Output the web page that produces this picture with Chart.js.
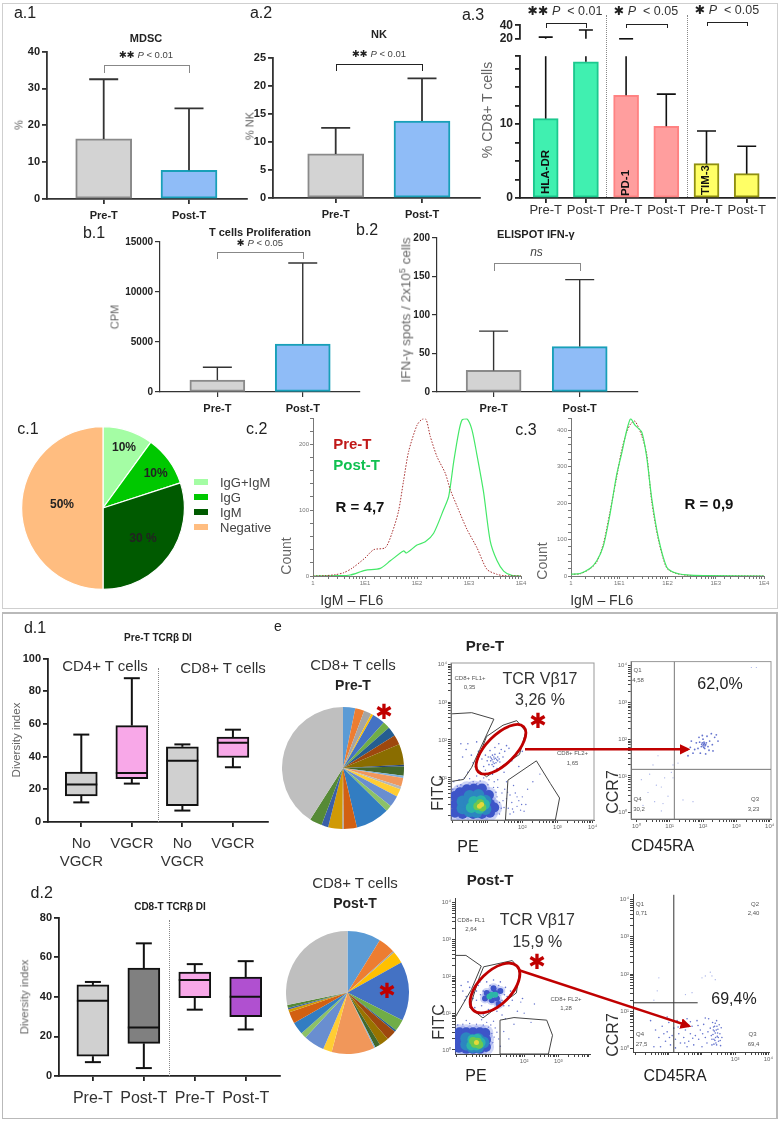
<!DOCTYPE html>
<html>
<head>
<meta charset="utf-8">
<title>Immune panels</title>
<script src="https://cdn.jsdelivr.net/npm/chart.js@4/dist/chart.umd.min.js"></script>
<style>
  html, body { margin: 0; padding: 0; background: #fff; }
  #page { position: relative; width: 782px; height: 1124px; overflow: hidden; font-family: "Liberation Sans", Arial, sans-serif; color: #222; filter: blur(0.35px); }
  #page canvas { position: absolute; }
  .t { position: absolute; white-space: nowrap; line-height: 1; }
  .box { position: absolute; box-sizing: border-box; }
  sup { font-size: 65%; line-height: 0; }
  svg { position: absolute; left: 0; top: 0; }
</style>
</head>
<body>
<div id="page"></div>
<script>
// ---- data ----
const prePost = ["Pre-T", "Post-T"];
const mdscMean = [16.3, 7.8];
const mdscHigh = [32.5, 24.6];
const nkMean = [7.85, 13.7];
const nkHigh = [12.5, 21.3];
const cpmMean = [1200, 4800];
const cpmHigh = [2470, 12900];
const elispotMean = [28, 59];
const elispotHigh = [79, 146];

const cd8Cats = ["Pre-T", "Post-T", "Pre-T", "Post-T", "Pre-T", "Post-T"];
const cd8Mean = [10.75, 18.45, 13.9, 9.7, 4.65, 3.3];
const cd8High = [22.5, 32.9, 20, 14.07, 9.07, 7.0];

const igLabels = ["IgG+IgM", "IgG", "IgM", "Negative"];
const igValues = [10, 10, 30, 50];
const igColors = ["#a4fda4", "#00c800", "#005a00", "#ffbd80"];

const c2PreX = [1, 1.7, 2.7, 3.9, 5.6, 9.9, 14.7, 24.6, 33, 44, 55, 69, 100, 125, 149, 180, 243, 350, 437, 589, 912, 1420, 2220, 3470, 4640, 10000];
const c2PreY = [0, 0.5, 2, 5, 11.6, 27, 40, 43, 65, 98, 144, 189, 229, 238, 238, 212, 181, 156, 131, 106, 71, 43, 10, 2.5, 0.5, 0];
const c2PostX = [1, 2.9, 5.2, 10, 19.7, 30.7, 55, 63, 100, 144, 209, 325, 407, 509, 636, 737, 912, 1140, 1420, 1900, 2560, 3470, 4640, 6600, 10000];
const c2PostY = [0, 0.5, 1.5, 8.5, 11.6, 23, 38, 35, 47, 52, 65, 101, 121, 174, 219, 237, 239, 222, 184, 128, 53, 23, 7.5, 1, 0];
const c3X = [1, 1.54, 2.5, 3.4, 4.68, 6.4, 8.8, 11.2, 14.3, 17.3, 21.2, 29.2, 37, 47, 64.6, 96, 143, 251, 550, 10000];
const c3PostY = [5, 7, 21, 41, 82, 168, 277, 336, 400, 432, 414, 395, 327, 214, 105, 25, 9, 3, 1, 0];
const c3PreY = [5, 6, 20, 38, 88, 175, 270, 345, 395, 418, 425, 385, 335, 205, 100, 22, 8, 2, 1, 0];

const d1Cats = [["No", "VGCR"], ["VGCR"], ["No", "VGCR"], ["VGCR"]];
const d1Low = [12, 23.5, 7, 33.5];
const d1Q1 = [16, 26.5, 10, 39.5];
const d1Median = [23, 30, 37.5, 48.5];
const d1Q3 = [30.5, 59, 46, 52];
const d1High = [53.5, 88, 47.5, 56.5];

const d2Cats = ["Pre-T", "Post-T", "Pre-T", "Post-T"];
const d2Low = [7, 4, 33.5, 23.5];
const d2Q1 = [10, 16.5, 39.5, 30];
const d2Median = [38, 24.5, 48.5, 40];
const d2Q3 = [46, 54.5, 52.5, 50];
const d2High = [47.5, 67, 56.5, 58];

const vbPreShare = [3.25, 2.4, 2, 0.6, 3.4, 1.9, 2.5, 2.6, 5.5, 0.5, 2.4, 0.6, 2.3, 0.7, 2.1, 3, 1.6, 9, 3.5, 0.4, 3.7, 1.8, 3.3, 41];
const vbPreColors = ["#5b9bd5", "#ed7d31", "#a5a5a5", "#ffc000", "#4472c4", "#70ad47", "#255e91", "#9e480e", "#8a6d00", "#264478", "#43682b", "#7cafdd", "#f1975a", "#b7b7b7", "#ffcd33", "#698ed0", "#8cc168", "#327dc2", "#d26012", "#a5a5a5", "#d09a05", "#3a5fa8", "#568a36", "#bfbfbf"];
const vbPostShare = [8.8, 4.5, 0.4, 3.2, 15.5, 3.1, 0.5, 2.6, 2.5, 1.4, 0.3, 11.3, 2.3, 5.5, 1.5, 3.3, 3, 0.8, 0.4, 0.8, 28.2];
const vbPostColors = ["#5b9bd5", "#ed7d31", "#a5a5a5", "#ffc000", "#4472c4", "#70ad47", "#255e91", "#9e480e", "#997300", "#43682b", "#7cafdd", "#f1975a", "#ffcd33", "#698ed0", "#8cc168", "#327dc2", "#d26012", "#d09a05", "#3a5fa8", "#568a36", "#bfbfbf"];

// flow plots, in decades
const flowTicks = ["10⁰", "10¹", "10²", "10³", "10⁴"];
const aGateLeft = [[0, 2.69], [0.56, 2.72], [1.19, 2.55], [0.79, 1.75], [0.56, 1.28], [0.33, 0.96], [0, 0.91]];
const aGateMid = [[1.84, 2.51], [2.1, 2.22], [1.92, 1.62], [0.98, 1.03], [0.65, 1.28], [0.98, 2.09], [1.45, 2.39], [1.84, 2.51]];
const aGateRight = [[1.59, 0.94], [2.4, 1.45], [2.8, 0.85], [3.06, 0.47], [2.94, -0.11], [1.52, -0.11], [1.59, 0.94]];
const aBlobBlue = [[0.08, 0.08], [0.08, 0.3], [0.08, 0.52], [0.22, 0.62], [0.3, 0.05], [0.3, 0.3], [0.35, 0.55], [0.42, 0.7], [0.6, 0.05], [0.6, 0.3], [0.6, 0.55], [0.62, 0.72], [0.85, 0.05], [0.85, 0.3], [0.85, 0.55], [0.85, 0.72], [1.08, 0.08], [1.08, 0.32], [1.05, 0.55], [1.2, 0.22]];
const aBlobTeal = [[0.3, 0.2], [0.3, 0.38], [0.5, 0.12], [0.5, 0.35], [0.5, 0.52], [0.7, 0.1], [0.7, 0.35], [0.75, 0.55], [0.95, 0.18], [0.95, 0.4]];
const aBlobCyan = [[0.55, 0.22], [0.62, 0.38], [0.78, 0.2], [0.82, 0.4], [0.92, 0.3]];
const aBlobGreen = [[0.72, 0.25], [0.8, 0.33], [0.86, 0.22]];
const aBlobYellow = [[0.78, 0.25], [0.84, 0.3]];
const aFuzz = [[0.05, 0.9], [0.2, 0.95], [0.35, 1.0], [0.5, 0.98], [0.7, 1.05], [0.9, 1.0], [1.05, 0.95], [1.2, 0.9], [1.3, 0.75], [1.42, 0.6], [1.45, 0.4], [1.4, 0.2], [1.35, 0.05], [1.5, 0.7], [1.55, 0.45], [1.6, 0.2], [1.65, 0.55], [1.7, 0.35], [1.75, 0.1], [1.8, 0.6], [1.85, 0.25], [1.9, 0.4], [1.95, 0.15], [2.0, 0.5], [1.15, 1.1], [0.45, 1.15], [0.95, 1.2], [1.55, 0.9], [1.75, 0.8], [2.1, 0.3], [2.3, 0.9], [2.5, 1.1], [2.15, 0.7], [1.65, 0.05], [0.02, 0.7], [0.25, 0.82], [0.6, 0.9], [0.8, 0.92], [1.28, 0.5], [1.3, 0.95], [1.25, 0.62], [1.35, 0.35], [1.18, 0.75], [1.02, 0.82], [0.7, 0.85], [0.15, 0.78], [1.48, 0.22], [1.58, 0.62], [1.72, 0.18], [1.85, 0.5], [1.98, 0.3], [2.05, 0.12]];
const aCluster = [[1.2, 1.5], [1.1, 1.45], [1.3, 1.55], [1.25, 1.4], [1.15, 1.6], [1.05, 1.35], [1.35, 1.65], [1.4, 1.75], [1.0, 1.45], [1.18, 1.3], [1.28, 1.25], [1.5, 1.7], [1.45, 1.55], [0.95, 1.6], [1.08, 1.72], [1.22, 1.8], [1.33, 1.9], [1.55, 1.85], [1.62, 1.78], [0.9, 1.3], [0.85, 1.5], [1.12, 1.52], [1.22, 1.62], [1.17, 1.42], [1.27, 1.48], [1.03, 1.55], [1.36, 1.42], [0.75, 1.7], [0.55, 1.6], [0.4, 1.75], [0.3, 1.55], [0.6, 1.4], [0.45, 1.9], [0.25, 1.9], [0.7, 1.95], [1.7, 1.45], [1.9, 1.3], [2.0, 1.7], [1.48, 1.15], [1.15, 1.1], [1.14, 1.48], [1.19, 1.55], [1.24, 1.52], [1.09, 1.55], [1.3, 1.45], [1.2, 1.38], [1.14, 1.35], [1.34, 1.5]];

const bCluster = [[2.02, 1.86], [1.95, 1.8], [2.1, 1.9], [2.05, 1.75], [1.9, 1.92], [2.15, 1.8], [2.0, 2.0], [1.85, 1.75], [2.2, 1.95], [2.12, 2.08], [1.98, 2.1], [1.8, 1.9], [1.75, 1.72], [2.28, 1.85], [2.35, 2.05], [2.4, 2.12], [2.25, 2.15], [1.92, 1.62], [2.08, 1.6], [1.7, 1.62], [1.62, 1.78], [2.3, 1.68], [1.55, 1.55], [2.18, 1.7], [2.03, 1.92], [1.96, 1.86], [2.06, 1.82], [1.88, 2.05], [2.45, 1.95], [1.65, 1.95], [2.0, 1.82], [2.04, 1.88], [1.98, 1.9], [2.08, 1.85], [2.02, 1.78]];
const bScatter = [[0.15, 0.9], [0.35, 0.55], [0.6, 0.75], [0.75, 0.7], [0.55, 0.3], [0.8, 0.25], [0.95, 0.45], [1.1, 0.95], [1.05, 1.1], [0.4, 1.05], [0.2, 0.2], [0.75, 0.05], [1.4, 0.35], [1.7, 0.3], [0.5, 1.3], [0.65, 1.55], [1.1, 1.3], [1.25, 1.35], [0.85, 0.95], [3.6, 3.95], [3.45, 3.95]];

const cBlobBlue = [[0.08, 0.06], [0.08, 0.28], [0.1, 0.48], [0.3, 0.03], [0.3, 0.25], [0.3, 0.48], [0.5, 0.03], [0.5, 0.25], [0.5, 0.48], [0.7, 0.03], [0.7, 0.25], [0.7, 0.48], [0.88, 0.08], [0.88, 0.28], [0.86, 0.46]];
const cBlobTeal = [[0.3, 0.15], [0.3, 0.32], [0.48, 0.08], [0.48, 0.28], [0.65, 0.08], [0.65, 0.3], [0.8, 0.2]];
const cBlobCyan = [[0.45, 0.12], [0.48, 0.28], [0.6, 0.12], [0.62, 0.3], [0.72, 0.2]];
const cBlobGreen = [[0.55, 0.17], [0.63, 0.22], [0.68, 0.14], [0.5, 0.24]];
const cBlobYellow = [[0.6, 0.2]];
const cFuzz = [[0.05, 0.68], [0.2, 0.7], [0.4, 0.72], [0.6, 0.7], [0.8, 0.68], [0.95, 0.62], [1.05, 0.45], [1.08, 0.2], [1.15, 0.6], [1.25, 0.3], [1.3, 0.1], [1.4, 0.5], [1.55, 0.3], [1.1, 0.78], [1.45, 0.85], [1.7, 0.7], [2.0, 1.0], [2.3, 1.25], [1.9, 1.3], [2.2, 0.75], [0.3, 0.8], [0.75, 0.82], [1.02, 0.68], [1.12, 0.35], [1.2, 0.48], [0.9, 0.75]];
const cClusterBlue = [[1.0, 1.5], [1.15, 1.55], [1.05, 1.35], [1.2, 1.4], [0.9, 1.55], [1.3, 1.6], [1.1, 1.68], [0.85, 1.4], [1.25, 1.25]];
const cClusterCyan = [[1.05, 1.5], [1.15, 1.5], [0.98, 1.45]];
const cClusterDots = [[0.2, 1.6], [0.3, 1.45], [0.4, 1.7], [0.5, 1.55], [0.6, 1.35], [0.65, 1.75], [0.45, 1.25], [0.75, 1.2], [0.7, 1.85], [0.9, 1.85], [1.1, 1.9], [1.3, 1.85], [1.45, 1.7], [1.5, 1.45], [1.4, 1.2], [1.55, 1.2], [1.2, 1.05], [0.95, 1.1], [0.25, 1.35], [0.15, 1.75], [1.65, 1.35], [1.8, 1.05], [1.95, 1.4], [0.8, 1.6], [1.25, 1.75], [0.55, 1.15], [0.35, 1.85], [1.6, 1.6], [0.8, 0.95], [1.35, 0.95], [0.6, 1.6], [0.72, 1.5], [0.5, 1.4], [1.42, 1.5], [1.35, 1.35], [1.0, 1.75]];

const dCloud = [[0.6, 0.5], [0.7, 0.3], [0.8, 0.6], [0.9, 0.2], [0.95, 0.45], [1.0, 0.7], [1.05, 0.1], [1.1, 0.35], [1.15, 0.55], [1.2, 0.25], [1.25, 0.75], [1.3, 0.4], [1.35, 0.15], [1.4, 0.6], [1.45, 0.3], [1.5, 0.5], [1.55, 0.8], [1.6, 0.2], [1.65, 0.4], [1.7, 0.6], [1.75, 0.1], [1.8, 0.35], [1.85, 0.75], [1.9, 0.25], [1.95, 0.5], [2.0, 0.05], [2.05, 0.65], [2.1, 0.3], [2.15, 0.15], [2.2, 0.8], [2.25, 0.55], [2.28, 0.35], [2.3, 0.1], [2.32, 0.7], [2.34, 0.5], [2.36, 0.25], [2.38, 0.6], [2.4, 0.42], [2.42, 0.15], [2.44, 0.75], [2.46, 0.33], [2.48, 0.52], [2.5, 0.2], [2.52, 0.64], [2.54, 0.4], [2.56, 0.08], [2.58, 0.56], [2.6, 0.3], [2.33, 0.38], [2.37, 0.47], [2.41, 0.3], [2.45, 0.6], [2.39, 0.22], [2.43, 0.5], [2.47, 0.42], [2.35, 0.58], [2.49, 0.3], [2.4, 0.68], [0.95, 0.85], [1.55, 0.05], [0.75, 0.05], [0.45, 0.75], [0.55, 0.05], [1.2, 0.02], [2.1, 0.82], [1.65, 0.72], [0.85, 0.4], [1.02, 0.3], [1.28, 0.58], [1.48, 0.15], [1.72, 0.28], [1.88, 0.62], [2.02, 0.4], [2.18, 0.45], [2.3, 0.25], [2.55, 0.22], [2.44, 0.1], [2.36, 0.12]];
const dUpper = [[0.7, 1.9], [0.65, 1.55], [0.55, 1.3], [1.5, 1.45], [1.7, 1.5], [2.0, 1.9], [2.1, 1.95], [2.25, 2.05], [2.3, 1.95], [2.4, 1.85]];

// ---- page helpers ----
const page = document.getElementById("page");
const FONT = '"Liberation Sans", Arial, sans-serif';
Chart.defaults.font.family = FONT;
Chart.defaults.animation = false;
Chart.defaults.responsive = false;
Chart.defaults.maintainAspectRatio = false;
Chart.defaults.plugins.legend.display = false;
Chart.defaults.plugins.tooltip.enabled = false;

function txt(html, x, y, o = {}) {
  const d = document.createElement("div");
  d.className = "t";
  d.innerHTML = html;
  d.style.left = x + "px";
  d.style.top = y + "px";
  d.style.fontSize = (o.size || 12) + "px";
  if (o.bold) d.style.fontWeight = "bold";
  if (o.color) d.style.color = o.color;
  if (o.font) d.style.fontFamily = o.font;
  d.style.transform = o.left ? "translate(0,-50%)" : `translate(-50%,-50%)${o.rot ? " rotate(-90deg)" : ""}`;
  page.appendChild(d);
}

function box(x, y, w, h, css) {
  const d = document.createElement("div");
  d.className = "box";
  d.style.cssText = `left:${x}px;top:${y}px;width:${w}px;height:${h}px;${css}`;
  page.appendChild(d);
}

const bracket = (x1, x2, top, bottom, color, lw) =>
  box(x1, top, x2 - x1 + lw, bottom - top, `border:${lw}px solid ${color};border-bottom:0`);
const vdots = (x, top, bottom, color = "#888") =>
  box(x, top, 1, bottom - top, `border-left:1px dotted ${color}`);

function canvasAt(r, m) {
  const c = document.createElement("canvas");
  c.width = r.x1 - r.x0 + m.l + m.r;
  c.height = r.y1 - r.y0 + m.t + m.b;
  c.style.left = r.x0 - m.l + "px";
  c.style.top = r.y0 - m.t + "px";
  page.appendChild(c);
  return c;
}

const fitWidth = (w) => (s) => { s.width = w; };
const fitHeight = (h) => (s) => { s.height = h; };

// linear x scale whose ticks 1..n sit under the bars
function catAxis(r, m, labels, c0, step, st) {
  return {
    type: "linear",
    offset: false,
    min: 1 - (c0 - r.x0) / step,
    max: labels.length + (r.x1 - (c0 + step * (labels.length - 1))) / step,
    afterBuildTicks: (s) => { s.ticks = labels.map((_, i) => ({ value: i + 1 })); },
    afterFit: fitHeight(m.b),
    border: { color: st.axis, width: st.lw },
    grid: { offset: false, drawOnChartArea: false, color: st.axis, lineWidth: st.lw, tickLength: 5 },
    ticks: {
      autoSkip: false, maxRotation: 0, minRotation: 0, padding: st.xPad,
      color: st.xColor || "#222",
      font: { size: st.xSize, weight: st.xBold ? "bold" : "normal" },
      callback: (v) => labels[v - 1],
    },
  };
}

function valAxis(m, st, yMin, yMax, yStep) {
  return {
    min: yMin, max: yMax,
    ticks: { stepSize: yStep, color: "#222", padding: 2, font: { size: st.ySize, weight: "bold" }, callback: (v) => v, ...st.yTicks },
    afterFit: fitWidth(m.l),
    afterBuildTicks: st.yBuild,
    border: { color: st.axis, width: st.lw },
    grid: { drawOnChartArea: false, color: st.axis, lineWidth: st.lw, tickLength: 5 },
  };
}

// error whiskers go through the chart's own scales
function whiskers(highs, means, capW, color, lw) {
  return {
    id: "whiskers",
    afterDatasetsDraw(chart) {
      const { x, y } = chart.scales;
      const ctx = chart.ctx;
      ctx.save();
      ctx.strokeStyle = color;
      ctx.lineWidth = lw;
      highs.forEach((h, i) => {
        const px = x.getPixelForValue(i + 1);
        const from = y.getPixelForValue(Math.max(means[i], y.min));
        const to = y.getPixelForValue(Math.min(h, y.max));
        if (h < y.min) return;
        ctx.beginPath();
        ctx.moveTo(px, from);
        ctx.lineTo(px, to);
        if (h <= y.max) {
          ctx.moveTo(px - capW / 2, to);
          ctx.lineTo(px + capW / 2, to);
        }
        ctx.stroke();
      });
      ctx.restore();
    },
  };
}

function barPanel(o) {
  const c = canvasAt(o.r, o.m);
  new Chart(c, {
    type: "bar",
    data: {
      datasets: [{
        data: o.values.map((v, i) => ({ x: i + 1, y: v })),
        backgroundColor: o.fills, borderColor: o.edges, borderWidth: o.edgeW,
        barThickness: o.barW, borderSkipped: false,
      }],
    },
    options: {
      layout: { padding: { left: 0, top: o.m.t, right: o.m.r, bottom: 0 } },
      scales: {
        x: catAxis(o.r, o.m, o.cats, o.c0, o.step, o.st),
        y: valAxis(o.m, o.st, 0, o.yMax, o.yStep),
      },
    },
    plugins: [whiskers(o.highs, o.values, o.capW, o.whiskerColor || "#333", o.whiskerW || 1.8)],
  });
}

function boxPanel(o) {
  const c = canvasAt(o.r, o.m);
  new Chart(c, {
    type: "bar",
    data: {
      datasets: [{
        data: o.q1.map((v, i) => ({ x: i + 1, y: [v, o.q3[i]] })),
        backgroundColor: o.fills, borderColor: "#111", borderWidth: 2,
        barThickness: o.barW, borderSkipped: false,
      }],
    },
    options: {
      layout: { padding: { left: 0, top: o.m.t, right: o.m.r, bottom: 0 } },
      scales: {
        x: catAxis(o.r, o.m, o.cats, o.c0, o.step, o.st),
        y: valAxis(o.m, o.st, 0, o.yMax, o.yStep),
      },
    },
    plugins: [{
      id: "boxMarks",
      afterDatasetsDraw(chart) {
        const { x, y } = chart.scales;
        const ctx = chart.ctx;
        ctx.save();
        ctx.strokeStyle = "#111";
        ctx.lineWidth = 2;
        o.q1.forEach((q, i) => {
          const px = x.getPixelForValue(i + 1);
          const seg = (x1, y1, x2, y2) => { ctx.beginPath(); ctx.moveTo(x1, y1); ctx.lineTo(x2, y2); ctx.stroke(); };
          seg(px, y.getPixelForValue(o.q3[i]), px, y.getPixelForValue(o.high[i]));
          seg(px, y.getPixelForValue(q), px, y.getPixelForValue(o.low[i]));
          seg(px - 8, y.getPixelForValue(o.high[i]), px + 8, y.getPixelForValue(o.high[i]));
          seg(px - 8, y.getPixelForValue(o.low[i]), px + 8, y.getPixelForValue(o.low[i]));
          seg(px - o.barW / 2, y.getPixelForValue(o.median[i]), px + o.barW / 2, y.getPixelForValue(o.median[i]));
        });
        ctx.restore();
      },
    }],
  });
}

function piePanel(cx, cy, radius, values, colors, edge) {
  const size = 2 * radius + edge;
  const c = canvasAt({ x0: cx - size / 2, x1: cx + size / 2, y0: cy - size / 2, y1: cy + size / 2 }, { l: 0, r: 0, t: 0, b: 0 });
  new Chart(c, {
    type: "pie",
    data: { datasets: [{ data: values, backgroundColor: colors, borderColor: "#fff", borderWidth: edge }] },
  });
}

function histPanel(r, m, series, yMax, labelEvery) {
  const c = canvasAt(r, m);
  new Chart(c, {
    type: "scatter",
    data: {
      datasets: series.map((s) => ({
        data: s.xs.map((x, i) => ({ x, y: s.ys[i] })),
        showLine: true, pointRadius: 0, borderColor: s.color, borderWidth: s.w, borderDash: s.dash, tension: 0.25,
      })),
    },
    options: {
      layout: { padding: { left: 0, top: m.t, right: m.r, bottom: 0 } },
      scales: {
        x: {
          type: "logarithmic", min: 1, max: 10000, afterFit: fitHeight(m.b),
          border: { color: "#777" },
          grid: { drawOnChartArea: false, color: "#777", tickLength: 3 },
          ticks: {
            autoSkip: false, maxRotation: 0, padding: 1, color: "#777", font: { size: 6 },
            callback: (v) => ({ 1: "1", 10: "1E1", 100: "1E2", 1000: "1E3", 10000: "1E4" }[v] || ""),
          },
        },
        y: {
          min: 0, max: yMax, afterFit: fitWidth(m.l),
          border: { color: "#777" },
          grid: { drawOnChartArea: false, color: "#777", tickLength: 3 },
          ticks: {
            stepSize: labelEvery / 5, autoSkip: false, padding: 1, color: "#777", font: { size: 6 },
            callback: (v) => (v % labelEvery === 0 ? v : ""),
          },
        },
      },
    },
  });
}

const pts = (a) => a.map(([x, y]) => ({ x, y }));
const minorSteps = [0, 0.3, 0.48, 0.6, 0.7, 0.78, 0.85, 0.9, 0.95];

function flowAxis(range, afterFit, labelled, st) {
  return {
    min: range[0], max: range[1], afterFit,
    afterBuildTicks: (s) => {
      const t = [];
      for (let d = 0; d <= 4; d++) minorSteps.forEach((k) => { if (d + k <= range[1] && d + k >= range[0]) t.push({ value: d + k }); });
      s.ticks = t;
    },
    border: { color: st.axis },
    grid: { drawOnChartArea: false, color: st.axis, tickLength: 3 },
    ticks: {
      autoSkip: false, maxRotation: 0, padding: 1, color: "#666", font: { size: 6 },
      callback: (v) => (Number.isInteger(v) && labelled.includes(v) ? flowTicks[v] : ""),
    },
  };
}

function flowPanel(o) {
  const m = { l: 16, t: 4, r: 6, b: 16 };
  const c = canvasAt(o.r, m);
  const lines = o.lines.map((l) => ({
    type: "line", data: pts(l.p), showLine: true, pointRadius: 0, borderColor: l.color, borderWidth: l.w || 1, tension: 0, fill: false,
  }));
  const layers = o.layers.map((l) => ({
    data: pts(l.p), pointRadius: l.size, backgroundColor: l.color, borderWidth: 0,
  }));
  new Chart(c, {
    type: "scatter",
    data: { datasets: [...lines, ...layers] },
    options: {
      layout: { padding: { left: 0, top: m.t, right: m.r, bottom: 0 } },
      scales: {
        x: { type: "linear", ...flowAxis(o.xr, fitHeight(m.b), o.xLabels, { axis: "#444" }) },
        y: flowAxis(o.yr, fitWidth(m.l), o.yLabels, { axis: "#444" }),
      },
    },
    plugins: o.frame ? [{
      id: "frame",
      beforeDatasetsDraw(chart) {
        const a = chart.chartArea;
        chart.ctx.save();
        chart.ctx.strokeStyle = o.frame;
        chart.ctx.strokeRect(a.left, a.top, a.width, a.height);
        chart.ctx.restore();
      },
    }] : [],
  });
}

// ---- frames ----
box(2, 3, 776, 606, "border:1.5px solid #cfcfcf");
box(2, 612, 776, 507, "border:2px solid #b9b9b9;border-bottom-width:1.5px;border-left-width:1.5px");

// ---- a, b: bars ----
const gray = "#d3d3d3", grayEdge = "#8a8a8a", blue = "#8fbcf7", blueEdge = "#18a0b8";
const sideText = "#666";
const heavy = { axis: "#333", lw: 1.8, xSize: 11, xBold: true, xPad: 5, ySize: 11 };
const thin = { axis: "#333", lw: 1.2, xSize: 11, xBold: true, xPad: 5, ySize: 10 };
const mark2 = '<span style="font-family:\'DejaVu Sans\';color:#222">✱✱</span>';
const mark1 = '<span style="font-family:\'DejaVu Sans\';color:#222">✱</span>';

barPanel({ r: { x0: 47, x1: 247, y0: 51, y1: 199.3 }, m: { l: 30, t: 8, r: 8, b: 24 }, cats: prePost, c0: 103.7, step: 85.3, values: mdscMean, highs: mdscHigh, fills: [gray, blue], edges: [grayEdge, blueEdge], edgeW: 2, barW: 56, capW: 29, yMax: 40, yStep: 10, st: heavy });
txt("a.1", 25, 13, { size: 16 });
txt("MDSC", 146, 38, { size: 11, bold: true });
txt(`${mark2} <i>P</i> &lt; 0.01`, 146, 55, { size: 9.5, color: "#444" });
bracket(103.7, 189, 65, 73, "#888", 1);
txt("%", 19, 125, { size: 11, rot: true, color: sideText });

barPanel({ r: { x0: 273, x1: 480, y0: 56.7, y1: 198 }, m: { l: 30, t: 8, r: 8, b: 24 }, cats: prePost, c0: 335.7, step: 86.3, values: nkMean, highs: nkHigh, fills: [gray, blue], edges: [grayEdge, blueEdge], edgeW: 2, barW: 56, capW: 29, yMax: 25, yStep: 5, st: heavy });
txt("a.2", 261, 13, { size: 16 });
txt("NK", 379, 34, { size: 11, bold: true });
txt(`${mark2} <i>P</i> &lt; 0.01`, 379, 54, { size: 9.5, color: "#444" });
bracket(335.7, 422, 64, 71, "#222", 1.2);
txt("% NK", 250, 126, { size: 11, rot: true, color: sideText });

const cd8Fills = ["#40f0b0", "#40f0b0", "#ff9e9e", "#ff9e9e", "#ffff66", "#ffff66"];
const cd8Edges = ["#1cc88e", "#1cc88e", "#ff8282", "#ff8282", "#8f8f10", "#8f8f10"];
const cd8Style = { axis: "#222", lw: 1.8, xSize: 13, xBold: false, xPad: 0, xColor: "#333", ySize: 12 };
const cd8Rect = { x0: 520, x1: 775, y0: 52.7, y1: 197.7 };
barPanel({
  r: cd8Rect, m: { l: 30, t: 6, r: 6, b: 20 }, cats: cd8Cats, c0: 545.7, step: 40.2,
  values: cd8Mean, highs: cd8High, fills: cd8Fills, edges: cd8Edges, edgeW: 2, barW: 25, capW: 19,
  yMax: 19.2, yStep: 2.5, whiskerColor: "#111", whiskerW: 1.6,
  st: {
    ...cd8Style,
    yBuild: (s) => { s.ticks = [0, 2.5, 5, 7.5, 10, 12.5, 15, 17.5, 19.2].map((value) => ({ value })); },
    yTicks: { autoSkip: false, callback: (v) => (v === 0 || v === 10 ? v : "") },
  },
});
// broken upper part of the same y axis, only the whisker tops reach it
{
  const r = { x0: 520, x1: 775, y0: 24, y1: 40.3 };
  const m = { l: 30, t: 8, r: 6, b: 8 };
  const c = canvasAt(r, m);
  const xA = catAxis(r, m, cd8Cats, 545.7, 40.2, cd8Style);
  new Chart(c, {
    type: "bar",
    data: { datasets: [{ data: [] }] },
    options: {
      layout: { padding: { left: 0, top: m.t, right: m.r, bottom: m.b } },
      scales: {
        x: { ...xA, display: false, afterFit: undefined },
        y: valAxis(m, { ...cd8Style, yTicks: { autoSkip: false } }, 20, 40, 20),
      },
    },
    plugins: [whiskers(cd8High, cd8Mean, 14, "#111", 1.6)],
  });
}
txt("a.3", 473, 15, { size: 16 });
txt("% CD8+ T cells", 487, 110, { size: 14, rot: true, color: sideText });
txt(`${mark2} <i>P</i> &nbsp;&lt; 0.01`, 565, 11, { size: 12.5, color: "#333" });
txt(`${mark1} <i>P</i> &nbsp;&lt; 0.05`, 646, 11, { size: 12.5, color: "#333" });
txt(`${mark1} <i>P</i> &nbsp;&lt; 0.05`, 727, 10, { size: 12.5, color: "#333" });
bracket(545.5, 586, 23, 28, "#222", 1.2);
bracket(626, 667, 24, 28, "#222", 1.2);
bracket(706.5, 747, 22, 26, "#222", 1.2);
vdots(605.7, 15, 197);
vdots(686.7, 15, 197);
txt("HLA-DR", 545.5, 172, { size: 11.5, bold: true, rot: true, color: "#111" });
txt("PD-1", 625.7, 183, { size: 11.5, bold: true, rot: true, color: "#111" });
txt("TIM-3", 706.3, 180, { size: 11.5, bold: true, rot: true, color: "#111" });

barPanel({ r: { x0: 159.5, x1: 360, y0: 242.3, y1: 392.3 }, m: { l: 40, t: 8, r: 8, b: 24 }, cats: prePost, c0: 217, step: 85.6, values: cpmMean, highs: cpmHigh, fills: [gray, blue], edges: [grayEdge, blueEdge], edgeW: 2, barW: 55, capW: 29, yMax: 15000, yStep: 5000, whiskerW: 1.4, st: thin });
txt("b.1", 94, 233, { size: 16 });
txt("T cells Proliferation", 260, 231.5, { size: 11, bold: true });
txt(`${mark1} <i>P</i> &lt; 0.05`, 260, 243, { size: 9.5, color: "#444" });
bracket(217, 302.6, 252, 259, "#888", 1);
txt("CPM", 114.7, 317, { size: 11, rot: true, color: sideText });

barPanel({ r: { x0: 437, x1: 638, y0: 237.7, y1: 392.3 }, m: { l: 30, t: 8, r: 8, b: 24 }, cats: prePost, c0: 493.6, step: 86.1, values: elispotMean, highs: elispotHigh, fills: [gray, blue], edges: [grayEdge, blueEdge], edgeW: 2, barW: 55, capW: 29, yMax: 200, yStep: 50, whiskerW: 1.4, st: thin });
txt("b.2", 367, 230, { size: 16 });
txt("ELISPOT IFN-γ", 535.7, 234, { size: 11, bold: true });
txt("<i>ns</i>", 536.5, 251.7, { size: 12, color: "#444" });
bracket(493.6, 579.7, 263, 271, "#888", 1);
txt("IFN-γ spots / 2x10<sup>5</sup> cells", 406, 310, { size: 13.5, rot: true, color: sideText });

// ---- c ----
piePanel(103.3, 508.3, 81.7, igValues, igColors, 1.2);
txt("c.1", 28, 429, { size: 16 });
txt("10%", 124, 446.7, { size: 12, bold: true });
txt("10%", 155.7, 473.3, { size: 12, bold: true });
txt("30 %", 143, 538, { size: 12, bold: true });
txt("50%", 62, 504, { size: 12, bold: true });
[481.7, 496.7, 511.7, 527.3].forEach((y, i) => {
  box(194, y - 3, 14, 6, `background:${igColors[i]}`);
  txt(igLabels[i], 220, y, { size: 13, color: "#444", left: true });
});

const redDash = [1.5, 1.5];
histPanel({ x0: 312.7, x1: 520.7, y0: 418.3, y1: 576.7 }, { l: 16, t: 4, r: 8, b: 14 }, [
  { xs: c2PreX, ys: c2PreY, color: "#a83030", w: 1, dash: redDash },
  { xs: c2PostX, ys: c2PostY, color: "#44e868", w: 1.2 },
], 239, 100);
histPanel({ x0: 571, x1: 764, y0: 418, y1: 576.7 }, { l: 16, t: 4, r: 8, b: 14 }, [
  { xs: c3X, ys: c3PostY, color: "#44e868", w: 1.2 },
  { xs: c3X, ys: c3PreY, color: "#a83030", w: 1, dash: redDash },
], 432, 100);
txt("c.2", 256.7, 429, { size: 16 });
txt("c.3", 526, 430, { size: 16 });
txt("Pre-T", 352.3, 443, { size: 15, bold: true, color: "#c01818" });
txt("Post-T", 356.7, 464, { size: 15, bold: true, color: "#10c050" });
txt("R = 4,7", 360, 506, { size: 15, bold: true, color: "#111" });
txt("R = 0,9", 709, 503, { size: 15, bold: true, color: "#111" });
txt("Count", 285.7, 555.7, { size: 14, rot: true, color: sideText });
txt("Count", 542, 561, { size: 14, rot: true, color: sideText });
txt("IgM – FL6", 351.7, 600, { size: 14, color: "#333" });
txt("IgM – FL6", 601.7, 600, { size: 14, color: "#333" });

// ---- d ----
const boxGray = "#d0d0d0", boxPink = "#f8a8e8";
const dStyle = { axis: "#222", lw: 1.8, xSize: 15, xBold: false, xPad: 8, xColor: "#333", ySize: 11 };
boxPanel({ r: { x0: 48.3, x1: 269, y0: 658.3, y1: 822.3 }, m: { l: 30, t: 8, r: 8, b: 50 }, cats: d1Cats, c0: 81.7, step: 50.7, q1: d1Q1, q3: d1Q3, median: d1Median, low: d1Low, high: d1High, fills: [boxGray, boxPink, boxGray, boxPink], barW: 32, yMax: 100, yStep: 20, st: dStyle });
txt("d.1", 35, 628, { size: 16 });
txt("Pre-T TCRβ DI", 158, 638, { size: 10, bold: true });
txt("CD4+ T cells", 105, 665, { size: 15, color: "#333" });
txt("CD8+ T cells", 223, 667, { size: 15, color: "#333" });
txt("Diversity index", 17, 740, { size: 11.5, rot: true, color: sideText });
vdots(157.7, 668, 822);

boxPanel({ r: { x0: 59.3, x1: 281, y0: 917.3, y1: 1076.7 }, m: { l: 30, t: 8, r: 8, b: 34 }, cats: d2Cats, c0: 93.3, step: 51.1, q1: d2Q1, q3: d2Q3, median: d2Median, low: d2Low, high: d2High, fills: [boxGray, "#808080", boxPink, "#b050d0"], barW: 32, yMax: 80, yStep: 20, st: { ...dStyle, xSize: 16 } });
txt("d.2", 41.7, 892.7, { size: 16 });
txt("CD8-T TCRβ DI", 170, 907, { size: 10, bold: true });
txt("Diversity index", 25, 996.7, { size: 11.5, rot: true, color: sideText });
vdots(169, 920, 1076);

// ---- e: clonotype pies ----
const red = "#c00000";
const bigStar = { size: 21, color: red, font: "'DejaVu Sans'" };
txt("e", 278, 626, { size: 14 });
piePanel(342.7, 768.3, 61, vbPreShare, vbPreColors, 0);
txt("CD8+ T cells", 353, 664, { size: 15, color: "#333" });
txt("Pre-T", 353, 685, { size: 14, bold: true });
txt("✱", 384, 712, bigStar);
piePanel(348, 992.7, 61.7, vbPostShare, vbPostColors, 0);
txt("CD8+ T cells", 355, 882, { size: 15, color: "#333" });
txt("Post-T", 355, 902.7, { size: 14, bold: true });
txt("✱", 387, 990.7, bigStar);

// ---- e: flow plots ----
const dotBlue = "rgba(50,70,190,.75)";
const densPale = "rgba(95,115,225,.3)", densBlue = "#3d55c8", densTeal = "#2c86c0", densCyan = "#2cb5a8", densGreen = "#6cc850", densYellow = "#e6d83a";
const gateCol = "#444";
flowPanel({
  r: { x0: 450.7, x1: 595.7, y0: 659.3, y1: 821 }, xr: [-0.03, 4.04], yr: [-0.11, 4.03], frame: "#999",
  xLabels: [2, 3, 4], yLabels: [1, 2, 3, 4],
  lines: [{ p: aGateLeft, color: gateCol }, { p: aGateMid, color: gateCol }, { p: aGateRight, color: gateCol }],
  layers: [
    { p: aBlobYellow, size: 2.5, color: densYellow }, { p: aBlobGreen, size: 4, color: densGreen },
    { p: aBlobCyan, size: 5.5, color: densCyan }, { p: aBlobTeal, size: 6, color: densTeal }, { p: aBlobBlue, size: 5, color: densBlue },
    { p: aBlobBlue, size: 8, color: densPale },
    { p: aFuzz, size: 0.7, color: dotBlue }, { p: aCluster, size: 0.8, color: dotBlue },
  ],
});
flowPanel({
  r: { x0: 630.7, x1: 770.7, y0: 660.7, y1: 819 }, xr: [-0.16, 4.04], yr: [-0.17, 4.11], frame: "#999",
  xLabels: [0, 1, 2, 3, 4], yLabels: [0, 1, 2, 3, 4],
  lines: [{ p: [[1.14, -0.17], [1.14, 4.11]], color: "#777" }, { p: [[-0.16, 1.18], [4.04, 1.18]], color: "#777" }],
  layers: [{ p: bCluster, size: 0.9, color: dotBlue }, { p: bScatter, size: 0.6, color: "rgba(90,110,210,.6)" }],
});
flowPanel({
  r: { x0: 455, x1: 592.3, y0: 894, y1: 1054 }, xr: [-0.03, 3.93], yr: [-0.11, 4.13],
  xLabels: [2, 3, 4], yLabels: [0, 1, 2, 3, 4],
  lines: [
    { p: [[-0.03, 2.57], [0.29, 2.57], [0.74, 2.28], [0.45, 1.64], [-0.03, 0.88]], color: gateCol },
    { p: [[0.81, 2.26], [1.65, 2.43], [1.87, 2.17], [1.77, 1.55], [0.79, 0.87], [0.4, 1.15], [0.69, 1.99], [0.81, 2.26]], color: gateCol },
    { p: [[1.29, 0.81], [1.7, 0.88], [2.66, 0.81], [2.83, 0.4], [2.71, -0.11], [1.29, -0.11], [1.29, 0.81]], color: gateCol },
  ],
  layers: [
    { p: cBlobYellow, size: 2.5, color: densYellow }, { p: cBlobGreen, size: 4, color: densGreen },
    { p: cBlobCyan, size: 5, color: densCyan }, { p: cBlobTeal, size: 6, color: densTeal }, { p: cBlobBlue, size: 5, color: densBlue },
    { p: cBlobBlue, size: 8, color: densPale },
    { p: cClusterCyan, size: 3, color: densCyan }, { p: cClusterBlue, size: 3, color: densBlue }, { p: cClusterBlue, size: 5, color: densPale },
    { p: cFuzz, size: 0.7, color: dotBlue }, { p: cClusterDots, size: 0.8, color: dotBlue },
  ],
});
flowPanel({
  r: { x0: 633.3, x1: 770, y0: 894.3, y1: 1053 }, xr: [-0.08, 4.02], yr: [-0.09, 4.13],
  xLabels: [3, 4], yLabels: [0, 1, 2, 3, 4],
  lines: [{ p: [[1.15, -0.09], [1.15, 4.13]], color: "#333" }, { p: [[-0.08, 1.23], [1.87, 1.23]], color: "#333" }],
  layers: [{ p: dCloud, size: 0.8, color: dotBlue }, { p: dUpper, size: 0.6, color: "rgba(90,110,210,.6)" }],
});

const smallGray = { size: 6, color: "#555" };
txt("Pre-T", 485, 645, { size: 15, bold: true });
txt("TCR Vβ17", 540, 679, { size: 16, color: "#333" });
txt("3,26 %", 540, 700, { size: 16, color: "#333" });
txt("✱", 538, 721, bigStar);
txt("CD8+ FL1+", 470, 677.5, smallGray);
txt("0,35", 469.5, 687, smallGray);
txt("CD8+ FL2+", 572.5, 752.5, smallGray);
txt("1,65", 572.5, 762.5, smallGray);
txt("FITC", 438, 793, { size: 16, rot: true, color: "#333" });
txt("PE", 468, 846.7, { size: 16, color: "#222" });
txt("62,0%", 720, 683.5, { size: 16, color: "#222" });
txt("Q1", 637.5, 670, smallGray);
txt("4,58", 638, 680, smallGray);
txt("Q4", 637.5, 798.5, smallGray);
txt("30,2", 639, 808.5, smallGray);
txt("Q3", 755, 798.5, smallGray);
txt("3,23", 753.5, 808.5, smallGray);
txt("CCR7", 612.7, 791.7, { size: 16, rot: true, color: "#333" });
txt("CD45RA", 662.7, 845.7, { size: 16, color: "#222" });

txt("Post-T", 490, 879, { size: 15, bold: true });
txt("TCR Vβ17", 537.3, 920.3, { size: 16, color: "#333" });
txt("15,9 %", 537.3, 942.3, { size: 16, color: "#333" });
txt("✱", 537, 962, bigStar);
txt("CD8+ FL1", 471, 919.5, smallGray);
txt("2,64", 471, 928.5, smallGray);
txt("CD8+ FL2+", 566, 998.5, smallGray);
txt("1,28", 566, 1007.5, smallGray);
txt("FITC", 439.3, 1021.7, { size: 16, rot: true, color: "#333" });
txt("PE", 476, 1075.7, { size: 16, color: "#222" });
txt("69,4%", 734, 999, { size: 16, color: "#222" });
txt("Q1", 640, 903.5, smallGray);
txt("0,71", 641.5, 912.5, smallGray);
txt("Q2", 755, 903.5, smallGray);
txt("2,40", 753.5, 912.5, smallGray);
txt("Q4", 640, 1033.5, smallGray);
txt("27,5", 641.5, 1044, smallGray);
txt("Q3", 752.5, 1033.5, smallGray);
txt("69,4", 753.5, 1044, smallGray);
txt("CCR7", 612.7, 1035, { size: 16, rot: true, color: "#333" });
txt("CD45RA", 675, 1075.7, { size: 16, color: "#222" });

// red ellipses and arrows go over the plots
const svgNS = "http://www.w3.org/2000/svg";
const svg = document.createElementNS(svgNS, "svg");
svg.setAttribute("width", 782);
svg.setAttribute("height", 1124);
svg.innerHTML = `
  <defs><marker id="head" markerWidth="4.5" markerHeight="4.5" refX="3.5" refY="2.2" orient="auto">
    <path d="M0,0 L4.5,2.2 L0,4.5 z" fill="${red}"/></marker></defs>
  <ellipse cx="501" cy="749.3" rx="32" ry="14.5" transform="rotate(-45 501 749.3)" fill="none" stroke="${red}" stroke-width="2.8"/>
  <ellipse cx="495" cy="988" rx="31" ry="16.5" transform="rotate(-45 495 988)" fill="none" stroke="${red}" stroke-width="2.8"/>
  <line x1="525" y1="749.3" x2="688" y2="749.3" stroke="${red}" stroke-width="2.4" marker-end="url(#head)"/>
  <line x1="518.3" y1="970" x2="689" y2="1026" stroke="${red}" stroke-width="2.4" marker-end="url(#head)"/>`;
page.appendChild(svg);
</script>
</body>
</html>
